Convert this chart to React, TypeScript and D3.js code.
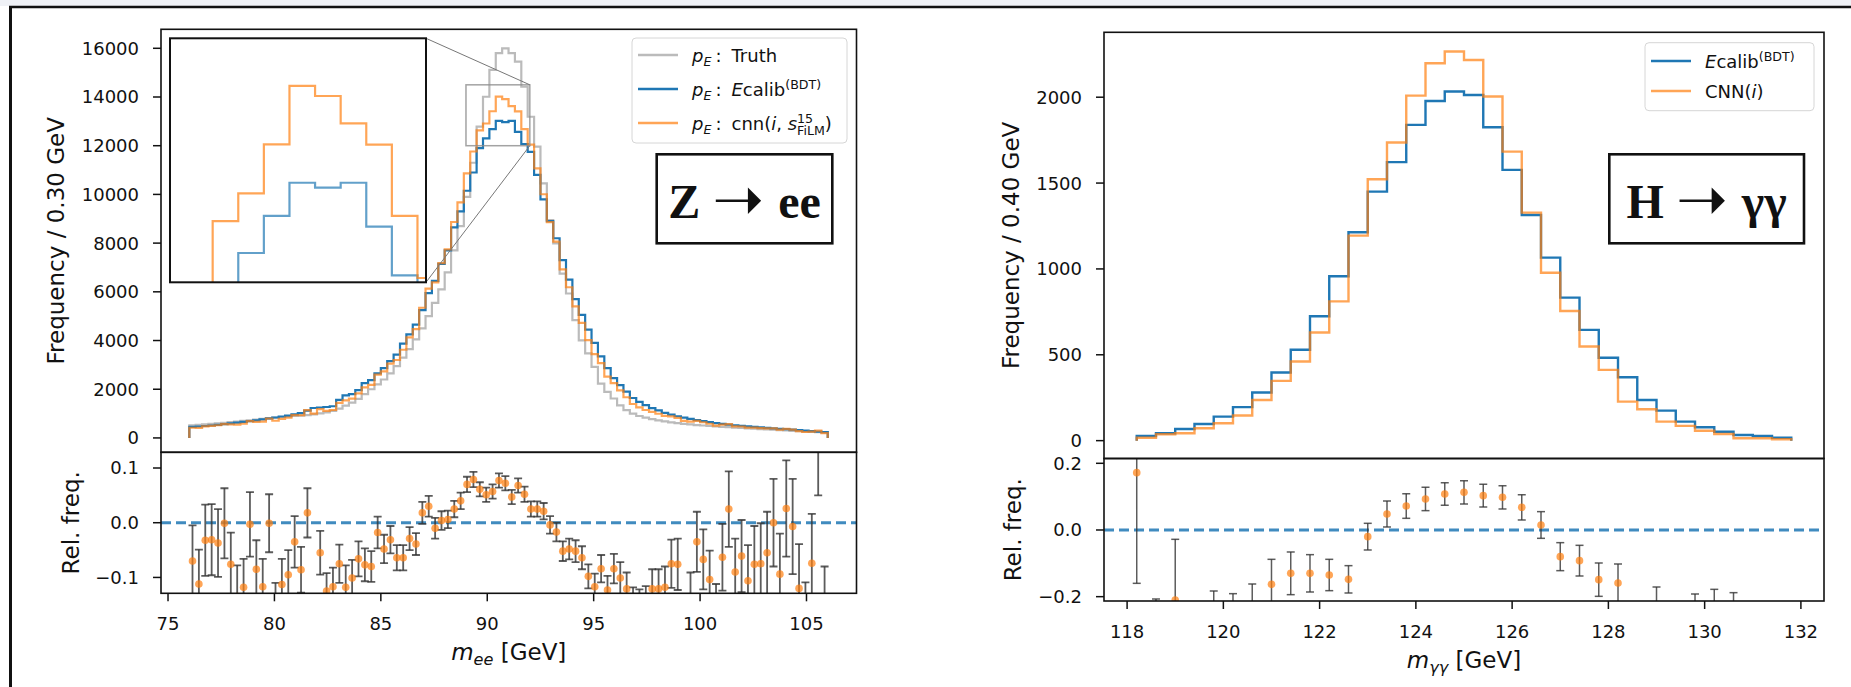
import React, { useEffect, useRef } from 'react';
import * as d3 from 'd3';

// ---- Z -> ee panel (bins of 0.30 GeV starting at 76 GeV) ----
const zBinStart = 76.0;
const zBinWidth = 0.3;

const zTruth = [
  520, 540, 560, 580, 600, 620, 650, 670, 700, 720,
  750, 780, 800, 830, 860, 880, 900, 920, 940, 970,
  1010, 1050, 1110, 1200, 1330, 1450, 1600, 1800, 2000, 2200,
  2400, 2650, 2950, 3300, 3650, 4050, 4500, 5000, 5550, 6100,
  6800, 7700, 8700, 9900, 11300, 12780, 14010, 15110, 15800, 16000,
  15800, 15450, 14420, 13190, 11960, 10450, 8950, 7990, 6750, 5930,
  4840, 4010, 3470, 2920, 2230, 1890, 1620, 1340, 1140, 1000,
  900, 830, 770, 720, 680, 640, 610, 580, 555, 530,
  510, 490, 470, 455, 440, 425, 410, 395, 380, 365,
  350, 335, 320, 305, 290, 275, 260, 245, 235, 225,
];

const zEcalib = [
  450, 470, 490, 510, 540, 570, 600, 630, 660, 690,
  720, 760, 800, 840, 880, 920, 970, 1020, 1120, 1230,
  1250, 1270, 1300, 1560, 1750, 1800, 1960, 2250, 2370, 2650,
  2870, 3150, 3420, 3870, 4250, 4650, 5250, 5950, 6450, 7150,
  7700, 8650, 9300, 10150, 10900, 11900, 12300, 12680, 13020, 12970,
  13020, 12570, 12070, 11750, 10800, 9800, 8900, 8200, 7300, 6500,
  5700, 5050, 4450, 3900, 3350, 2870, 2460, 2170, 1900, 1640,
  1480, 1350, 1220, 1130, 1030, 960, 890, 830, 780, 730,
  690, 650, 610, 580, 550, 520, 500, 475, 455, 435,
  415, 395, 375, 360, 340, 320, 300, 280, 260, 240,
];

const zCnn = [
  419, 417, 474, 494, 520, 569, 554, 545, 582, 688,
  659, 671, 799, 706, 781, 833, 936, 932, 1140, 1000,
  1181, 1111, 1148, 1443, 1544, 1618, 1831, 2077, 2180, 2602,
  2732, 3052, 3201, 3622, 4127, 4469, 5345, 6129, 6386, 7179,
  7746, 8866, 9672, 10861, 11761, 12626, 12912, 13414, 14012, 13909,
  13629, 13411, 12680, 12044, 11070, 10006, 8864, 8061, 6920, 6188,
  5404, 4727, 4014, 3444, 3069, 2517, 2253, 1951, 1670, 1394,
  1251, 1148, 1072, 993, 908, 888, 822, 697, 667, 704,
  644, 582, 506, 543, 564, 473, 470, 425, 420, 402,
  392, 395, 340, 369, 338, 282, 243, 259, 302, 199,
];

const zRel = [
  -0.070, -0.112, -0.032, -0.031, -0.037, -0.001, -0.076, -0.135, -0.118, -0.003,
  -0.085, -0.117, -0.001, -0.160, -0.113, -0.095, -0.035, -0.086, 0.018, -0.190,
  -0.055, -0.125, -0.117, -0.075, -0.118, -0.101, -0.066, -0.077, -0.080, -0.018,
  -0.048, -0.031, -0.064, -0.064, -0.029, -0.039, 0.018, 0.030, -0.010, 0.004,
  0.006, 0.025, 0.040, 0.070, 0.079, 0.061, 0.051, 0.057, 0.077, 0.072,
  0.047, 0.068, 0.052, 0.025, 0.025, 0.021, -0.004, -0.017, -0.052, -0.048,
  -0.052, -0.064, -0.098, -0.117, -0.084, -0.123, -0.084, -0.101, -0.121, -0.150,
  -0.155, -0.150, -0.121, -0.121, -0.118, -0.075, -0.076, -0.200, -0.145, -0.035,
  -0.067, -0.104, -0.170, -0.063, 0.025, -0.090, -0.061, -0.106, -0.076, -0.075,
  -0.055, 0.000, -0.094, 0.026, -0.007, -0.120, -0.190, -0.074, 0.160, -0.170,
];

const zRelErr = [
  0.065, 0.063, 0.065, 0.065, 0.062, 0.064, 0.058, 0.057, 0.052, 0.059,
  0.053, 0.051, 0.053, 0.050, 0.047, 0.045, 0.047, 0.042, 0.045, 0.045,
  0.040, 0.033, 0.035, 0.035, 0.040, 0.033, 0.032, 0.030, 0.028, 0.029,
  0.026, 0.025, 0.023, 0.023, 0.021, 0.020, 0.020, 0.019, 0.019, 0.017,
  0.016, 0.015, 0.015, 0.014, 0.014, 0.013, 0.013, 0.013, 0.013, 0.013,
  0.013, 0.013, 0.014, 0.014, 0.014, 0.015, 0.016, 0.017, 0.018, 0.019,
  0.020, 0.021, 0.022, 0.024, 0.025, 0.026, 0.027, 0.029, 0.030, 0.032,
  0.033, 0.034, 0.036, 0.036, 0.038, 0.044, 0.047, 0.050, 0.054, 0.055,
  0.055, 0.053, 0.058, 0.061, 0.069, 0.061, 0.066, 0.065, 0.070, 0.074,
  0.075, 0.080, 0.074, 0.088, 0.087, 0.081, 0.081, 0.090, 0.110, 0.090,
];

// ---- H -> gamma gamma panel (bins of 0.40 GeV starting at 118.2 GeV) ----
const hBinStart = 118.2;
const hBinWidth = 0.4;

const hEcalib = [
  27, 43, 68, 97, 140, 195, 280, 397, 529, 724,
  957, 1214, 1450, 1622, 1839, 1978, 2033, 2013, 1825, 1577,
  1314, 1066, 833, 645, 483, 369, 237, 175, 111, 78,
  52, 33, 27, 17,
];

const hCnn = [
  17, 37, 43, 72, 101, 146, 237, 348, 461, 630,
  811, 1194, 1522, 1736, 2009, 2198, 2266, 2217, 2004, 1683,
  1328, 978, 755, 548, 412, 227, 183, 111, 86, 58,
  39, 14, 14, 8,
];

const hRel = [
  0.172, -0.450, -0.210, -0.450, -0.350, -0.330, -0.270, -0.163, -0.130, -0.130,
  -0.135, -0.148, -0.020, 0.048, 0.072, 0.093, 0.108, 0.113, 0.103, 0.098,
  0.068, 0.015, -0.080, -0.092, -0.149, -0.159, -0.350, -0.300, -0.400, -0.350,
  -0.300, -0.320, -0.500, -0.500,
];

const hRelErr = [
  0.332, 0.243, 0.182, 0.200, 0.167, 0.139, 0.108, 0.075, 0.064, 0.056,
  0.047, 0.041, 0.040, 0.039, 0.037, 0.035, 0.034, 0.035, 0.034, 0.035,
  0.038, 0.040, 0.042, 0.046, 0.050, 0.057, 0.100, 0.129, 0.120, 0.158,
  0.122, 0.132, 0.150, 0.200,
];

// ---- ticks ----
const zYTicks = [0, 2000, 4000, 6000, 8000, 10000, 12000, 14000, 16000];
const zRelTicks = [-0.1, 0.0, 0.1];
const zXTicks = [75, 80, 85, 90, 95, 100, 105];
const hYTicks = [0, 500, 1000, 1500, 2000];
const hRelTicks = [-0.2, 0.0, 0.2];
const hXTicks = [118, 120, 122, 124, 126, 128, 130, 132];

const BLUE = '#1f77b4';
const ORANGE = '#ff7f0e';
const GREY = '#bbbbbb';
const FONT = '"DejaVu Sans", sans-serif';
const SERIF = '"Liberation Serif", "Times New Roman", serif';

function stepPoints(start, width, values) {
  const pts = [[start, 0]];
  values.forEach((v, i) => {
    pts.push([start + i * width, v]);
    pts.push([start + (i + 1) * width, v]);
  });
  pts.push([start + values.length * width, 0]);
  return pts;
}

// writes a label piece by piece (italics, sub/superscripts), returns end x
function richText(g, x, y, parts, size, family = FONT) {
  let cx = x;
  const put = (p, px) => {
    const fs = p.size || (p.small ? size * 0.7 : size);
    const t = g.append('text')
      .attr('x', px)
      .attr('y', y + (p.dy || 0))
      .attr('font-family', p.font || family)
      .attr('font-size', fs)
      .attr('font-style', p.it ? 'italic' : 'normal')
      .attr('font-weight', p.bold ? 'bold' : 'normal')
      .attr('fill', '#111')
      .style('white-space', 'pre')
      .text(p.t);
    return t.node().getComputedTextLength();
  };
  parts.forEach(p => {
    cx += p.dx || 0;
    if (p.stack) {
      let w = 0;
      p.stack.forEach(q => { w = Math.max(w, put(q, cx)); });
      cx += w;
    } else {
      cx += put(p, cx);
    }
  });
  return cx;
}

function centeredRich(svg, cx, y, parts, size, family = FONT) {
  const g = svg.append('g');
  const end = richText(g, 0, 0, parts, size, family);
  g.attr('transform', `translate(${cx - end / 2},${y})`);
  return g;
}

function drawPanel(svg, p) {
  const x = d3.scaleLinear().domain(p.xDomain).range([p.x0, p.x1]);
  const y = d3.scaleLinear().domain(p.yDomain).range([p.ySplit, p.yTop]);
  const yr = d3.scaleLinear().domain(p.relDomain).range([p.yBot, p.ySplit]);

  const defs = svg.append('defs');
  defs.append('clipPath').attr('id', p.id + '-main').append('rect')
    .attr('x', p.x0).attr('y', p.yTop).attr('width', p.x1 - p.x0).attr('height', p.ySplit - p.yTop);
  defs.append('clipPath').attr('id', p.id + '-rel').append('rect')
    .attr('x', p.x0).attr('y', p.ySplit).attr('width', p.x1 - p.x0).attr('height', p.yBot - p.ySplit);

  const line = d3.line().x(d => x(d[0])).y(d => y(d[1]));
  const gMain = svg.append('g').attr('clip-path', `url(#${p.id}-main)`);
  p.series.forEach(s => {
    gMain.append('path')
      .attr('d', line(stepPoints(p.binStart, p.binWidth, s.values)))
      .attr('fill', 'none')
      .attr('stroke', s.color)
      .attr('stroke-opacity', s.opacity)
      .attr('stroke-width', s.width)
      .attr('stroke-linejoin', 'miter');
  });

  // ratio panel
  const gRel = svg.append('g').attr('clip-path', `url(#${p.id}-rel)`);
  gRel.append('line')
    .attr('x1', p.x0).attr('x2', p.x1).attr('y1', yr(0)).attr('y2', yr(0))
    .attr('stroke', BLUE).attr('stroke-opacity', 0.85).attr('stroke-width', 3)
    .attr('stroke-dasharray', '10,5');
  const cap = 4;
  p.relX.forEach((xv, i) => {
    const v = p.rel[i];
    const e = p.relErr[i];
    const px = x(xv);
    const eb = gRel.append('g').attr('stroke', '#333').attr('stroke-opacity', 0.8).attr('stroke-width', p.errWidth);
    eb.append('line').attr('x1', px).attr('x2', px).attr('y1', yr(v - e)).attr('y2', yr(v + e));
    eb.append('line').attr('x1', px - cap).attr('x2', px + cap).attr('y1', yr(v - e)).attr('y2', yr(v - e));
    eb.append('line').attr('x1', px - cap).attr('x2', px + cap).attr('y1', yr(v + e)).attr('y2', yr(v + e));
  });
  gRel.selectAll('circle.pt')
    .data(p.relX)
    .enter().append('circle')
    .attr('class', 'pt')
    .attr('cx', d => x(d))
    .attr('cy', (d, i) => yr(p.rel[i]))
    .attr('r', 3.8)
    .attr('fill', ORANGE)
    .attr('fill-opacity', 0.7);

  // frames
  [[p.yTop, p.ySplit], [p.ySplit, p.yBot]].forEach(([a, b]) => {
    svg.append('rect').attr('x', p.x0).attr('y', a).attr('width', p.x1 - p.x0).attr('height', b - a)
      .attr('fill', 'none').attr('stroke', '#111').attr('stroke-width', 1.6);
  });

  const tickLen = 8;
  const yTick = (yy, label) => {
    svg.append('line').attr('x1', p.x0 - tickLen).attr('x2', p.x0).attr('y1', yy).attr('y2', yy)
      .attr('stroke', '#111').attr('stroke-width', 1.5);
    svg.append('text').attr('x', p.x0 - 22).attr('y', yy).attr('dy', '0.36em')
      .attr('text-anchor', 'end').attr('font-family', FONT).attr('font-size', 18)
      .attr('fill', '#111').text(label);
  };
  p.yTicks.forEach(t => yTick(y(t), String(t)));
  const f1 = d3.format('.1f');
  p.relTicks.forEach(t => yTick(yr(t), f1(t)));

  p.xTicks.forEach(t => {
    const px = x(t);
    svg.append('line').attr('x1', px).attr('x2', px).attr('y1', p.yBot).attr('y2', p.yBot + tickLen)
      .attr('stroke', '#111').attr('stroke-width', 1.5);
    svg.append('text').attr('x', px).attr('y', p.yBot + 37)
      .attr('text-anchor', 'middle').attr('font-family', FONT).attr('font-size', 18)
      .attr('fill', '#111').text(String(t));
  });

  // axis labels
  const yLabel = (cx, cy, text) => {
    svg.append('text')
      .attr('transform', `translate(${cx},${cy}) rotate(-90)`)
      .attr('text-anchor', 'middle')
      .attr('font-family', FONT).attr('font-size', 23).attr('fill', '#111')
      .text(text);
  };
  yLabel(p.yLabelX, (p.yTop + p.ySplit) / 2, p.yLabel);
  yLabel(p.relLabelX, (p.ySplit + p.yBot) / 2, 'Rel. freq.');
  centeredRich(svg, (p.x0 + p.x1) / 2, p.yBot + 67, p.xLabel, 23);

  return { x, y };
}

function legend(svg, box, entries) {
  svg.append('rect').attr('x', box.x).attr('y', box.y).attr('width', box.w).attr('height', box.h)
    .attr('rx', 4).attr('fill', '#fff').attr('fill-opacity', 0.8)
    .attr('stroke', '#d6d6d6').attr('stroke-width', 1);
  entries.forEach((e, i) => {
    const yy = box.firstY + i * box.step;
    svg.append('line').attr('x1', box.x + 6).attr('x2', box.x + 46).attr('y1', yy).attr('y2', yy)
      .attr('stroke', e.color).attr('stroke-opacity', e.opacity).attr('stroke-width', 2.6);
    richText(svg.append('g'), box.x + 60, yy + 6.5, e.parts, 18);
  });
}

export default function App() {
  const ref = useRef(null);

  useEffect(() => {
    const svg = d3.select(ref.current);
    svg.selectAll('*').remove();

    // page strip and frame of the figure
    svg.append('rect').attr('x', 0).attr('y', 0).attr('width', 1851).attr('height', 6).attr('fill', '#eff1f6');
    svg.append('line').attr('x1', 9).attr('x2', 1851).attr('y1', 7).attr('y2', 7).attr('stroke', '#111').attr('stroke-width', 2.5);
    svg.append('line').attr('x1', 10.5).attr('x2', 10.5).attr('y1', 6).attr('y2', 687).attr('stroke', '#111').attr('stroke-width', 3);

    const zCenters = zEcalib.map((_, i) => zBinStart + (i + 0.5) * zBinWidth);
    const hEdges = hEcalib.map((_, i) => hBinStart + i * hBinWidth);

    const left = drawPanel(svg, {
      id: 'zee',
      x0: 161, x1: 856.5, yTop: 29.3, ySplit: 452.3, yBot: 593.3,
      xDomain: [74.67, 107.35], yDomain: [-590, 16780], relDomain: [-0.129, 0.1287],
      binStart: zBinStart, binWidth: zBinWidth,
      series: [
        { values: zTruth, color: GREY, opacity: 1, width: 2.2 },
        { values: zEcalib, color: BLUE, opacity: 1, width: 2.2 },
        { values: zCnn, color: ORANGE, opacity: 0.7, width: 2.2 },
      ],
      relX: zCenters, rel: zRel, relErr: zRelErr, errWidth: 1.8,
      yTicks: zYTicks, relTicks: zRelTicks, xTicks: zXTicks,
      yLabel: 'Frequency / 0.30 GeV', yLabelX: 64, relLabelX: 79,
      xLabel: [{ t: 'm', it: true }, { t: 'ee', it: true, small: true, dy: 5 }, { t: ' [GeV]' }],
    });

    drawPanel(svg, {
      id: 'hgg',
      x0: 1104, x1: 1824, yTop: 32.3, ySplit: 458.5, yBot: 601,
      xDomain: [117.52, 132.48], yDomain: [-104, 2378], relDomain: [-0.213, 0.2144],
      binStart: hBinStart, binWidth: hBinWidth,
      series: [
        { values: hEcalib, color: BLUE, opacity: 1, width: 2.4 },
        { values: hCnn, color: ORANGE, opacity: 0.7, width: 2.4 },
      ],
      relX: hEdges, rel: hRel, relErr: hRelErr, errWidth: 1.5,
      yTicks: hYTicks, relTicks: hRelTicks, xTicks: hXTicks,
      yLabel: 'Frequency / 0.40 GeV', yLabelX: 1019, relLabelX: 1021,
      xLabel: [{ t: 'm', it: true }, { t: 'γγ', it: true, small: true, dy: 5 }, { t: ' [GeV]' }],
    });

    // zoom indicator on the Z peak
    const zoomX = [89, 92];
    const zoomY = [12000, 14500];
    const inset = { x0: 170, x1: 426, y0: 38.3, y1: 282.3 };
    const rx0 = left.x(zoomX[0]), rx1 = left.x(zoomX[1]);
    const ry0 = left.y(zoomY[1]), ry1 = left.y(zoomY[0]);
    svg.append('rect').attr('x', rx0).attr('y', ry0).attr('width', rx1 - rx0).attr('height', ry1 - ry0)
      .attr('fill', 'none').attr('stroke', '#8c8c8c').attr('stroke-opacity', 0.8).attr('stroke-width', 1.5);
    svg.append('line').attr('x1', inset.x1).attr('y1', inset.y0).attr('x2', rx1).attr('y2', ry0)
      .attr('stroke', '#777').attr('stroke-width', 1);
    svg.append('line').attr('x1', inset.x1).attr('y1', inset.y1).attr('x2', rx1).attr('y2', ry1)
      .attr('stroke', '#777').attr('stroke-width', 1);

    // inset axes
    const ix = d3.scaleLinear().domain(zoomX).range([inset.x0, inset.x1]);
    const iy = d3.scaleLinear().domain(zoomY).range([inset.y1, inset.y0]);
    svg.append('rect').attr('x', inset.x0).attr('y', inset.y0).attr('width', inset.x1 - inset.x0)
      .attr('height', inset.y1 - inset.y0).attr('fill', '#fff');
    svg.select('defs').append('clipPath').attr('id', 'inset-clip').append('rect')
      .attr('x', inset.x0).attr('y', inset.y0).attr('width', inset.x1 - inset.x0).attr('height', inset.y1 - inset.y0);
    const iline = d3.line().x(d => ix(d[0])).y(d => iy(d[1]));
    const gIn = svg.append('g').attr('clip-path', 'url(#inset-clip)');
    gIn.append('path').attr('d', iline(stepPoints(zBinStart, zBinWidth, zEcalib)))
      .attr('fill', 'none').attr('stroke', BLUE).attr('stroke-opacity', 0.7).attr('stroke-width', 2.2);
    gIn.append('path').attr('d', iline(stepPoints(zBinStart, zBinWidth, zCnn)))
      .attr('fill', 'none').attr('stroke', ORANGE).attr('stroke-opacity', 0.7).attr('stroke-width', 2.2);
    svg.append('rect').attr('x', inset.x0).attr('y', inset.y0).attr('width', inset.x1 - inset.x0)
      .attr('height', inset.y1 - inset.y0).attr('fill', 'none').attr('stroke', '#111').attr('stroke-width', 2);

    // legends
    const pE = [{ t: 'p', it: true }, { t: 'E', it: true, small: true, dy: 4 }, { t: ':', dx: 4 }];
    legend(svg, { x: 632, y: 38, w: 215, h: 105, firstY: 55, step: 34 }, [
      { color: GREY, opacity: 1, parts: [...pE, { t: 'Truth', dx: 10 }] },
      { color: BLUE, opacity: 1, parts: [...pE, { t: 'E', it: true, dx: 10 }, { t: 'calib' }, { t: '(BDT)', small: true, dy: -7 }] },
      {
        color: ORANGE, opacity: 0.7,
        parts: [...pE, { t: 'cnn(', dx: 10 }, { t: 'i', it: true }, { t: ', ' }, { t: 's', it: true },
          { stack: [{ t: '15', small: true, dy: -7 }, { t: 'FiLM', small: true, dy: 5 }] }, { t: ')' }],
      },
    ]);
    legend(svg, { x: 1645, y: 42.7, w: 169, h: 68, firstY: 61, step: 30 }, [
      { color: BLUE, opacity: 1, parts: [{ t: 'E', it: true }, { t: 'calib' }, { t: '(BDT)', small: true, dy: -7 }] },
      { color: ORANGE, opacity: 0.7, parts: [{ t: 'CNN(' }, { t: 'i', it: true }, { t: ')' }] },
    ]);

    // process boxes
    const procBox = (bx, bw, parts) => {
      svg.append('rect').attr('x', bx).attr('y', 154.3).attr('width', bw).attr('height', 89)
        .attr('fill', '#fff').attr('stroke', '#111').attr('stroke-width', 2.6);
      centeredRich(svg, bx + bw / 2, 218.3, parts, 48, SERIF);
    };
    const arrow = { t: '➝', font: FONT, size: 62, dx: 12, dy: 2 };
    procBox(656.7, 175.6, [
      { t: 'Z', bold: true },
      arrow,
      { t: 'ee', bold: true, dx: 14 },
    ]);
    procBox(1609.3, 194.7, [
      { t: 'H', bold: true },
      arrow,
      { t: 'γγ', bold: true, dx: 14 },
    ]);
  }, []);

  return (
    <svg
      ref={ref}
      width={1851}
      height={687}
      style={{ position: 'absolute', left: 0, top: 0, background: '#fff' }}
    />
  );
}
